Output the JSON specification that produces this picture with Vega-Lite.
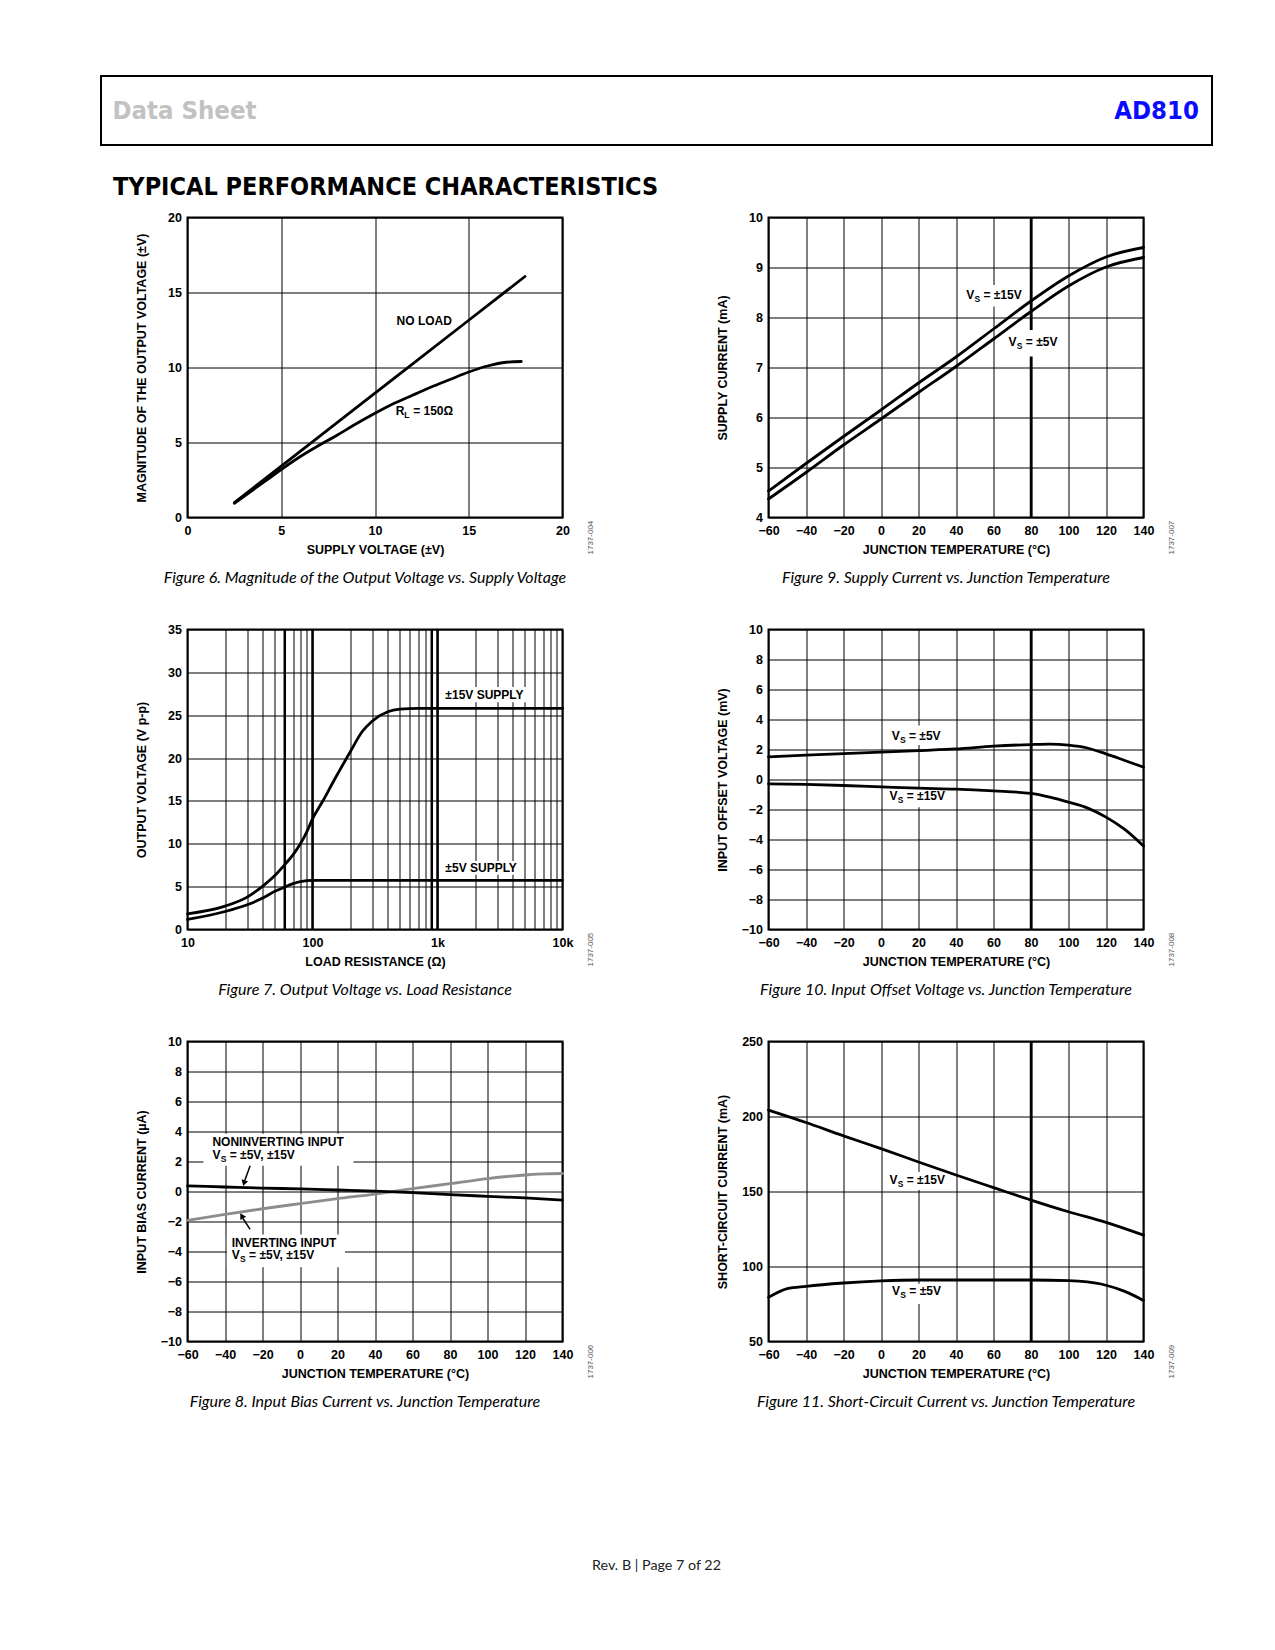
{
"$schema": "https://vega.github.io/schema/vega-lite/v6.json",
"padding": {"left": 100, "top": 75, "right": 5, "bottom": 5},
"background": "white",
"title": {"text": "Rev. B | Page 7 of 22", "orient": "bottom", "anchor": "middle", "font": "Lato", "fontStyle": "normal", "fontWeight": "normal", "fontSize": 14.3, "color": "#222222", "offset": 148},
"spacing": 9.5,
"vconcat": [
  {"width": 1111, "height": 69,
   "view": {"stroke": "black", "strokeWidth": 2},
   "title": {"text": "TYPICAL PERFORMANCE CHARACTERISTICS", "orient": "bottom", "anchor": "start", "frame": "group", "font": "DejaVu Sans Condensed", "fontStyle": "normal", "fontWeight": "bold", "fontSize": 25, "color": "black", "offset": 30, "dx": 12},
   "data": {"values": [{"pos": 0, "label": "Data Sheet"}, {"pos": 1, "label": "AD810"}]},
   "encoding": {"x": {"field": "pos", "type": "quantitative", "scale": {"domain": [0, 1], "nice": false, "zero": false}, "axis": null}, "text": {"field": "label"}},
   "layer": [
    {"transform": [{"filter": "datum.pos == 0"}], "mark": {"type": "text", "align": "left", "dx": 11.5, "font": "DejaVu Sans Condensed", "fontWeight": "bold", "fontSize": 25.5, "color": "#c2c2c2"}},
    {"transform": [{"filter": "datum.pos == 1"}], "mark": {"type": "text", "align": "right", "dx": -13, "font": "DejaVu Sans Condensed", "fontWeight": "bold", "fontSize": 25.5, "color": "#0a0aff"}}
   ]},
  {"spacing": 31.5, "hconcat": [
   {"width": 1, "height": 1, "view": {"stroke": "white", "strokeWidth": 1}, "data": {"values": []}, "mark": "point"},
   {"columns": 2, "bounds": "flush", "spacing": {"row": 112, "column": 206}, "concat": [
     {"width": 375, "height": 300,
      "title": {"text": "Figure 6. Magnitude of the Output Voltage vs. Supply Voltage"},
      "encoding": {
       "x": {"field": "x", "type": "quantitative", "scale": {"domain": [0, 20], "nice": false, "zero": false}, "axis": {"values": [0, 5, 10, 15, 20], "title": "SUPPLY VOLTAGE (±V)"}},
       "y": {"field": "y", "type": "quantitative", "scale": {"domain": [0, 20], "nice": false, "zero": false}, "axis": {"values": [0, 5, 10, 15, 20], "title": "MAGNITUDE OF THE OUTPUT VOLTAGE (±V)"}}
      },
      "layer": [
       {"data": {"values": [
         {"s": "NO LOAD", "x": 2.5, "y": 1.0}, {"s": "NO LOAD", "x": 5, "y": 3.43}, {"s": "NO LOAD", "x": 10, "y": 8.29}, {"s": "NO LOAD", "x": 15, "y": 13.15}, {"s": "NO LOAD", "x": 18, "y": 16.07},
         {"s": "RL", "x": 2.5, "y": 0.95}, {"s": "RL", "x": 3.5, "y": 1.85}, {"s": "RL", "x": 4.5, "y": 2.75}, {"s": "RL", "x": 5, "y": 3.2}, {"s": "RL", "x": 6, "y": 4.05}, {"s": "RL", "x": 7, "y": 4.8}, {"s": "RL", "x": 8, "y": 5.5}, {"s": "RL", "x": 9, "y": 6.25}, {"s": "RL", "x": 10, "y": 6.95}, {"s": "RL", "x": 11, "y": 7.6}, {"s": "RL", "x": 12, "y": 8.15}, {"s": "RL", "x": 13, "y": 8.7}, {"s": "RL", "x": 14, "y": 9.2}, {"s": "RL", "x": 15, "y": 9.7}, {"s": "RL", "x": 16, "y": 10.1}, {"s": "RL", "x": 17, "y": 10.35}, {"s": "RL", "x": 17.8, "y": 10.4}
        ]},
        "mark": {"type": "line"}, "encoding": {"detail": {"field": "s"}}},
       {"data": {"values": [{"x": 11.15, "y": 13.07, "t": "NO LOAD"}]}, "mark": {"type": "text"}, "encoding": {"text": {"field": "t"}}},
       {"data": {"values": [{"x": 11.1, "y": 7.07, "pre": "R", "sub": "L", "rest": "= 150Ω"}]},
        "layer": [
         {"mark": {"type": "text"}, "encoding": {"text": {"field": "pre"}}},
         {"mark": {"type": "text", "dx": 8.7, "dy": 4, "fontSize": 8.5}, "encoding": {"text": {"field": "sub"}}},
         {"mark": {"type": "text", "dx": 17.5}, "encoding": {"text": {"field": "rest"}}}
        ]},
       {"data": {"values": [{"x": 20, "y": 0, "t": "1737-004"}]}, "mark": {"type": "text", "angle": 270, "dx": -37, "dy": 28, "fontSize": 8, "fontWeight": "normal", "color": "#555555"}, "encoding": {"text": {"field": "t"}}}
      ]},
     {"width": 375, "height": 300,
      "title": {"text": "Figure 9. Supply Current vs. Junction Temperature"},
      "encoding": {
       "x": {"field": "x", "type": "quantitative", "scale": {"domain": [-60, 140], "nice": false, "zero": false}, "axis": {"values": [-60, -40, -20, 0, 20, 40, 60, 80, 100, 120, 140], "title": "JUNCTION TEMPERATURE (°C)"}},
       "y": {"field": "y", "type": "quantitative", "scale": {"domain": [4, 10], "nice": false, "zero": false}, "axis": {"values": [4, 5, 6, 7, 8, 9, 10], "title": "SUPPLY CURRENT (mA)"}}
      },
      "layer": [
       {"data": {"values": [{"x": 80, "y": 4, "y2": 10}]}, "mark": {"type": "rule", "strokeWidth": 2.5, "color": "black"}, "encoding": {"y2": {"field": "y2"}}},
       {"data": {"values": [{"x": 43, "x2": 78, "y": 8.22, "y2": 8.65}, {"x": 66, "x2": 97, "y": 7.22, "y2": 7.75}]}, "mark": {"type": "rect", "color": "white"}, "encoding": {"x2": {"field": "x2"}, "y2": {"field": "y2"}}},
       {"data": {"values": [
         {"s": "15", "x": -60, "y": 4.53}, {"s": "15", "x": -40, "y": 5.08}, {"s": "15", "x": -20, "y": 5.62}, {"s": "15", "x": 0, "y": 6.15}, {"s": "15", "x": 20, "y": 6.69}, {"s": "15", "x": 40, "y": 7.21}, {"s": "15", "x": 60, "y": 7.77}, {"s": "15", "x": 80, "y": 8.33}, {"s": "15", "x": 100, "y": 8.83}, {"s": "15", "x": 120, "y": 9.21}, {"s": "15", "x": 140, "y": 9.4},
         {"s": "5", "x": -60, "y": 4.37}, {"s": "5", "x": -40, "y": 4.9}, {"s": "5", "x": -20, "y": 5.45}, {"s": "5", "x": 0, "y": 5.97}, {"s": "5", "x": 20, "y": 6.5}, {"s": "5", "x": 40, "y": 7.02}, {"s": "5", "x": 60, "y": 7.57}, {"s": "5", "x": 80, "y": 8.12}, {"s": "5", "x": 100, "y": 8.63}, {"s": "5", "x": 120, "y": 9.01}, {"s": "5", "x": 140, "y": 9.2}
        ]},
        "mark": {"type": "line"}, "encoding": {"detail": {"field": "s"}}},
       {"data": {"values": [{"x": 45.4, "y": 8.45, "pre": "V", "sub": "S", "rest": "= ±15V"}, {"x": 68.0, "y": 7.51, "pre": "V", "sub": "S", "rest": "= ±5V"}]},
        "layer": [
         {"mark": {"type": "text"}, "encoding": {"text": {"field": "pre"}}},
         {"mark": {"type": "text", "dx": 8.3, "dy": 4, "fontSize": 8.5}, "encoding": {"text": {"field": "sub"}}},
         {"mark": {"type": "text", "dx": 17.3}, "encoding": {"text": {"field": "rest"}}}
        ]},
       {"data": {"values": [{"x": 140, "y": 4, "t": "1737-007"}]}, "mark": {"type": "text", "angle": 270, "dx": -37, "dy": 28, "fontSize": 8, "fontWeight": "normal", "color": "#555555"}, "encoding": {"text": {"field": "t"}}}
      ]},
     {"width": 375, "height": 300,
      "title": {"text": "Figure 7. Output Voltage vs. Load Resistance"},
      "encoding": {
       "x": {"field": "x", "type": "quantitative", "scale": {"type": "log", "domain": [10, 10000], "nice": false}, "axis": {"values": [10, 20, 30, 40, 50, 60, 70, 80, 90, 100, 200, 300, 400, 500, 600, 700, 800, 900, 1000, 2000, 3000, 4000, 5000, 6000, 7000, 8000, 9000, 10000], "labelExpr": "datum.value == 10 ? '10' : datum.value == 100 ? '100' : datum.value == 1000 ? '1k' : datum.value == 10000 ? '10k' : ''", "title": "LOAD RESISTANCE (Ω)"}},
       "y": {"field": "y", "type": "quantitative", "scale": {"domain": [0, 35], "nice": false, "zero": false}, "axis": {"values": [0, 5, 10, 15, 20, 25, 30, 35], "title": "OUTPUT VOLTAGE (V p-p)"}}
      },
      "layer": [
       {"data": {"values": [{"x": 60, "y": 0, "y2": 35}, {"x": 100, "y": 0, "y2": 35}, {"x": 900, "y": 0, "y2": 35}, {"x": 1000, "y": 0, "y2": 35}]}, "mark": {"type": "rule", "strokeWidth": 2.5, "color": "black"}, "encoding": {"y2": {"field": "y2"}}},
       {"data": {"values": [{"x": 1100, "x2": 5400, "y": 26.5, "y2": 28.3}, {"x": 1100, "x2": 4700, "y": 6.4, "y2": 8.0}]}, "mark": {"type": "rect", "color": "white"}, "encoding": {"x2": {"field": "x2"}, "y2": {"field": "y2"}}},
       {"data": {"values": [
         {"s": "15", "x": 10, "y": 1.83}, {"s": "15", "x": 20, "y": 2.73}, {"s": "15", "x": 30, "y": 3.78}, {"s": "15", "x": 40, "y": 5.07}, {"s": "15", "x": 50, "y": 6.3}, {"s": "15", "x": 60, "y": 7.57}, {"s": "15", "x": 70, "y": 8.74}, {"s": "15", "x": 80, "y": 10.0}, {"s": "15", "x": 90, "y": 11.4}, {"s": "15", "x": 100, "y": 12.9}, {"s": "15", "x": 120, "y": 14.9}, {"s": "15", "x": 150, "y": 17.5}, {"s": "15", "x": 200, "y": 20.7}, {"s": "15", "x": 250, "y": 23.1}, {"s": "15", "x": 300, "y": 24.3}, {"s": "15", "x": 400, "y": 25.4}, {"s": "15", "x": 500, "y": 25.7}, {"s": "15", "x": 700, "y": 25.8}, {"s": "15", "x": 1000, "y": 25.8}, {"s": "15", "x": 10000, "y": 25.8},
         {"s": "5", "x": 10, "y": 1.17}, {"s": "5", "x": 20, "y": 2.1}, {"s": "5", "x": 30, "y": 2.89}, {"s": "5", "x": 40, "y": 3.67}, {"s": "5", "x": 50, "y": 4.45}, {"s": "5", "x": 60, "y": 4.96}, {"s": "5", "x": 70, "y": 5.35}, {"s": "5", "x": 80, "y": 5.58}, {"s": "5", "x": 90, "y": 5.7}, {"s": "5", "x": 100, "y": 5.74}, {"s": "5", "x": 200, "y": 5.74}, {"s": "5", "x": 1000, "y": 5.74}, {"s": "5", "x": 10000, "y": 5.74}
        ]},
        "mark": {"type": "line"}, "encoding": {"detail": {"field": "s"}}},
       {"data": {"values": [{"x": 1156, "y": 27.4, "t": "±15V SUPPLY"}, {"x": 1156, "y": 7.22, "t": "±5V SUPPLY"}]}, "mark": {"type": "text"}, "encoding": {"text": {"field": "t"}}},
       {"data": {"values": [{"x": 10000, "y": 0, "t": "1737-005"}]}, "mark": {"type": "text", "angle": 270, "dx": -37, "dy": 28, "fontSize": 8, "fontWeight": "normal", "color": "#555555"}, "encoding": {"text": {"field": "t"}}}
      ]},
     {"width": 375, "height": 300,
      "title": {"text": "Figure 10. Input Offset Voltage vs. Junction Temperature"},
      "encoding": {
       "x": {"field": "x", "type": "quantitative", "scale": {"domain": [-60, 140], "nice": false, "zero": false}, "axis": {"values": [-60, -40, -20, 0, 20, 40, 60, 80, 100, 120, 140], "title": "JUNCTION TEMPERATURE (°C)"}},
       "y": {"field": "y", "type": "quantitative", "scale": {"domain": [-10, 10], "nice": false, "zero": false}, "axis": {"values": [-10, -8, -6, -4, -2, 0, 2, 4, 6, 8, 10], "title": "INPUT OFFSET VOLTAGE (mV)"}}
      },
      "layer": [
       {"data": {"values": [{"x": 80, "y": -10, "y2": 10}]}, "mark": {"type": "rule", "strokeWidth": 2.5, "color": "black"}, "encoding": {"y2": {"field": "y2"}}},
       {"data": {"values": [{"x": 3, "x2": 37, "y": 2.3, "y2": 3.6}, {"x": 2.5, "x2": 37, "y": -1.85, "y2": -0.62}]}, "mark": {"type": "rect", "color": "white"}, "encoding": {"x2": {"field": "x2"}, "y2": {"field": "y2"}}},
       {"data": {"values": [
         {"s": "5", "x": -60, "y": 1.51}, {"s": "5", "x": -40, "y": 1.62}, {"s": "5", "x": -20, "y": 1.73}, {"s": "5", "x": 0, "y": 1.82}, {"s": "5", "x": 20, "y": 1.93}, {"s": "5", "x": 40, "y": 2.04}, {"s": "5", "x": 60, "y": 2.22}, {"s": "5", "x": 80, "y": 2.33}, {"s": "5", "x": 90, "y": 2.36}, {"s": "5", "x": 100, "y": 2.29}, {"s": "5", "x": 110, "y": 2.1}, {"s": "5", "x": 120, "y": 1.71}, {"s": "5", "x": 130, "y": 1.27}, {"s": "5", "x": 140, "y": 0.82},
         {"s": "15", "x": -60, "y": -0.29}, {"s": "15", "x": -40, "y": -0.33}, {"s": "15", "x": -20, "y": -0.4}, {"s": "15", "x": 0, "y": -0.49}, {"s": "15", "x": 20, "y": -0.58}, {"s": "15", "x": 40, "y": -0.64}, {"s": "15", "x": 60, "y": -0.76}, {"s": "15", "x": 80, "y": -0.93}, {"s": "15", "x": 90, "y": -1.18}, {"s": "15", "x": 100, "y": -1.51}, {"s": "15", "x": 110, "y": -1.89}, {"s": "15", "x": 120, "y": -2.51}, {"s": "15", "x": 130, "y": -3.33}, {"s": "15", "x": 140, "y": -4.44}
        ]},
        "mark": {"type": "line"}, "encoding": {"detail": {"field": "s"}}},
       {"data": {"values": [{"x": 5.7, "y": 2.89, "pre": "V", "sub": "S", "rest": "= ±5V"}, {"x": 4.5, "y": -1.13, "pre": "V", "sub": "S", "rest": "= ±15V"}]},
        "layer": [
         {"mark": {"type": "text"}, "encoding": {"text": {"field": "pre"}}},
         {"mark": {"type": "text", "dx": 8.3, "dy": 4, "fontSize": 8.5}, "encoding": {"text": {"field": "sub"}}},
         {"mark": {"type": "text", "dx": 17.3}, "encoding": {"text": {"field": "rest"}}}
        ]},
       {"data": {"values": [{"x": 140, "y": -10, "t": "1737-008"}]}, "mark": {"type": "text", "angle": 270, "dx": -37, "dy": 28, "fontSize": 8, "fontWeight": "normal", "color": "#555555"}, "encoding": {"text": {"field": "t"}}}
      ]},
     {"width": 375, "height": 300,
      "title": {"text": "Figure 8. Input Bias Current vs. Junction Temperature"},
      "encoding": {
       "x": {"field": "x", "type": "quantitative", "scale": {"domain": [-60, 140], "nice": false, "zero": false}, "axis": {"values": [-60, -40, -20, 0, 20, 40, 60, 80, 100, 120, 140], "title": "JUNCTION TEMPERATURE (°C)"}},
       "y": {"field": "y", "type": "quantitative", "scale": {"domain": [-10, 10], "nice": false, "zero": false}, "axis": {"values": [-10, -8, -6, -4, -2, 0, 2, 4, 6, 8, 10], "title": "INPUT BIAS CURRENT (µA)"}}
      },
      "layer": [
       {"data": {"values": [{"x": -51.5, "x2": 28.5, "y": 1.72, "y2": 3.85}, {"x": -39, "x2": 24, "y": -5.05, "y2": -2.87}]}, "mark": {"type": "rect", "color": "white"}, "encoding": {"x2": {"field": "x2"}, "y2": {"field": "y2"}}},
       {"data": {"values": [
         {"x": -60, "y": -1.93}, {"x": -40, "y": -1.53}, {"x": -20, "y": -1.15}, {"x": 0, "y": -0.81}, {"x": 20, "y": -0.48}, {"x": 40, "y": -0.17}, {"x": 60, "y": 0.19}, {"x": 80, "y": 0.52}, {"x": 100, "y": 0.86}, {"x": 120, "y": 1.1}, {"x": 130, "y": 1.18}, {"x": 140, "y": 1.2}
        ]},
        "mark": {"type": "line", "color": "#8c8c8c"}},
       {"data": {"values": [
         {"x": -60, "y": 0.37}, {"x": -40, "y": 0.3}, {"x": -20, "y": 0.23}, {"x": 0, "y": 0.17}, {"x": 20, "y": 0.1}, {"x": 40, "y": 0.03}, {"x": 60, "y": -0.08}, {"x": 80, "y": -0.21}, {"x": 100, "y": -0.32}, {"x": 120, "y": -0.43}, {"x": 140, "y": -0.57}
        ]},
        "mark": {"type": "line"}},
       {"data": {"values": [{"x": -26.6, "y": 1.71, "x2": -29.4, "y2": 0.75}, {"x": -26.6, "y": -2.53, "x2": -30.4, "y2": -1.8}]}, "mark": {"type": "rule", "strokeWidth": 1.5, "color": "black"}, "encoding": {"x2": {"field": "x2"}, "y2": {"field": "y2"}}},
       {"data": {"values": [{"x": -29.7, "y": 0.62}]}, "mark": {"type": "point", "shape": "triangle", "angle": 197, "size": 45, "filled": true, "color": "black", "opacity": 1}},
       {"data": {"values": [{"x": -30.8, "y": -1.68}]}, "mark": {"type": "point", "shape": "triangle", "angle": 330, "size": 45, "filled": true, "color": "black", "opacity": 1}},
       {"data": {"values": [{"x": -46.7, "y": 3.27, "t": "NONINVERTING INPUT"}, {"x": -36.4, "y": -3.42, "t": "INVERTING INPUT"}]}, "mark": {"type": "text"}, "encoding": {"text": {"field": "t"}}},
       {"data": {"values": [{"x": -46.7, "y": 2.42, "pre": "V", "sub": "S", "rest": "= ±5V, ±15V"}, {"x": -36.4, "y": -4.2, "pre": "V", "sub": "S", "rest": "= ±5V, ±15V"}]},
        "layer": [
         {"mark": {"type": "text"}, "encoding": {"text": {"field": "pre"}}},
         {"mark": {"type": "text", "dx": 8.3, "dy": 4, "fontSize": 8.5}, "encoding": {"text": {"field": "sub"}}},
         {"mark": {"type": "text", "dx": 17.3}, "encoding": {"text": {"field": "rest"}}}
        ]},
       {"data": {"values": [{"x": 140, "y": -10, "t": "1737-006"}]}, "mark": {"type": "text", "angle": 270, "dx": -37, "dy": 28, "fontSize": 8, "fontWeight": "normal", "color": "#555555"}, "encoding": {"text": {"field": "t"}}}
      ]},
     {"width": 375, "height": 300,
      "title": {"text": "Figure 11. Short-Circuit Current vs. Junction Temperature"},
      "encoding": {
       "x": {"field": "x", "type": "quantitative", "scale": {"domain": [-60, 140], "nice": false, "zero": false}, "axis": {"values": [-60, -40, -20, 0, 20, 40, 60, 80, 100, 120, 140], "title": "JUNCTION TEMPERATURE (°C)"}},
       "y": {"field": "y", "type": "quantitative", "scale": {"domain": [50, 250], "nice": false, "zero": false}, "axis": {"values": [50, 100, 150, 200, 250], "title": "SHORT-CIRCUIT CURRENT (mA)"}}
      },
      "layer": [
       {"data": {"values": [{"x": 80, "y": 50, "y2": 250}]}, "mark": {"type": "rule", "strokeWidth": 2.5, "color": "black"}, "encoding": {"y2": {"field": "y2"}}},
       {"data": {"values": [{"x": 3, "x2": 37, "y": 151, "y2": 163}, {"x": 3.5, "x2": 36, "y": 75, "y2": 88.5}]}, "mark": {"type": "rect", "color": "white"}, "encoding": {"x2": {"field": "x2"}, "y2": {"field": "y2"}}},
       {"data": {"values": [
         {"s": "15", "x": -60, "y": 204.3}, {"s": "15", "x": -40, "y": 196.0}, {"s": "15", "x": -20, "y": 187.1}, {"s": "15", "x": 0, "y": 178.6}, {"s": "15", "x": 20, "y": 169.7}, {"s": "15", "x": 40, "y": 161.0}, {"s": "15", "x": 60, "y": 152.6}, {"s": "15", "x": 80, "y": 144.3}, {"s": "15", "x": 100, "y": 136.5}, {"s": "15", "x": 120, "y": 129.4}, {"s": "15", "x": 140, "y": 120.9},
         {"s": "5", "x": -60, "y": 79.4}, {"s": "5", "x": -50, "y": 85.2}, {"s": "5", "x": -40, "y": 86.8}, {"s": "5", "x": -20, "y": 89.0}, {"s": "5", "x": 0, "y": 90.4}, {"s": "5", "x": 20, "y": 91.0}, {"s": "5", "x": 40, "y": 91.0}, {"s": "5", "x": 60, "y": 91.0}, {"s": "5", "x": 80, "y": 91.0}, {"s": "5", "x": 100, "y": 90.6}, {"s": "5", "x": 110, "y": 89.7}, {"s": "5", "x": 120, "y": 87.5}, {"s": "5", "x": 130, "y": 83.4}, {"s": "5", "x": 140, "y": 77.4}
        ]},
        "mark": {"type": "line"}, "encoding": {"detail": {"field": "s"}}},
       {"data": {"values": [{"x": 4.5, "y": 157.5, "pre": "V", "sub": "S", "rest": "= ±15V"}, {"x": 5.9, "y": 83.4, "pre": "V", "sub": "S", "rest": "= ±5V"}]},
        "layer": [
         {"mark": {"type": "text"}, "encoding": {"text": {"field": "pre"}}},
         {"mark": {"type": "text", "dx": 8.3, "dy": 4, "fontSize": 8.5}, "encoding": {"text": {"field": "sub"}}},
         {"mark": {"type": "text", "dx": 17.3}, "encoding": {"text": {"field": "rest"}}}
        ]},
       {"data": {"values": [{"x": 140, "y": 50, "t": "1737-009"}]}, "mark": {"type": "text", "angle": 270, "dx": -37, "dy": 28, "fontSize": 8, "fontWeight": "normal", "color": "#555555"}, "encoding": {"text": {"field": "t"}}}
      ]}
   ]}
  ]}
],
"config": {
 "view": {"stroke": "black", "strokeWidth": 2},
 "axis": {"grid": true, "gridColor": "black", "gridWidth": 1, "gridOpacity": 1, "domain": false, "ticks": false, "labelFont": "Liberation Sans", "labelFontWeight": "bold", "labelFontSize": 12.5, "labelColor": "black", "labelFlush": false, "labelOverlap": false, "labelPadding": 6, "titleFont": "Liberation Sans", "titleFontWeight": "bold", "titleFontSize": 12.5, "titleColor": "black", "titleBaseline": "middle"},
 "axisX": {"labelPadding": 7, "titleX": 187.5, "titleY": 32},
 "axisY": {"titleX": -46, "titleY": 150},
 "title": {"font": "Lato", "fontStyle": "italic", "fontWeight": "normal", "fontSize": 16, "color": "black", "orient": "bottom", "anchor": "middle", "frame": "bounds", "offset": 14},
 "text": {"font": "Liberation Sans", "fontWeight": "bold", "fontSize": 12, "color": "black", "align": "left", "baseline": "middle"},
 "line": {"strokeWidth": 2.8, "color": "black", "interpolate": "monotone", "strokeCap": "round"}
}
}
